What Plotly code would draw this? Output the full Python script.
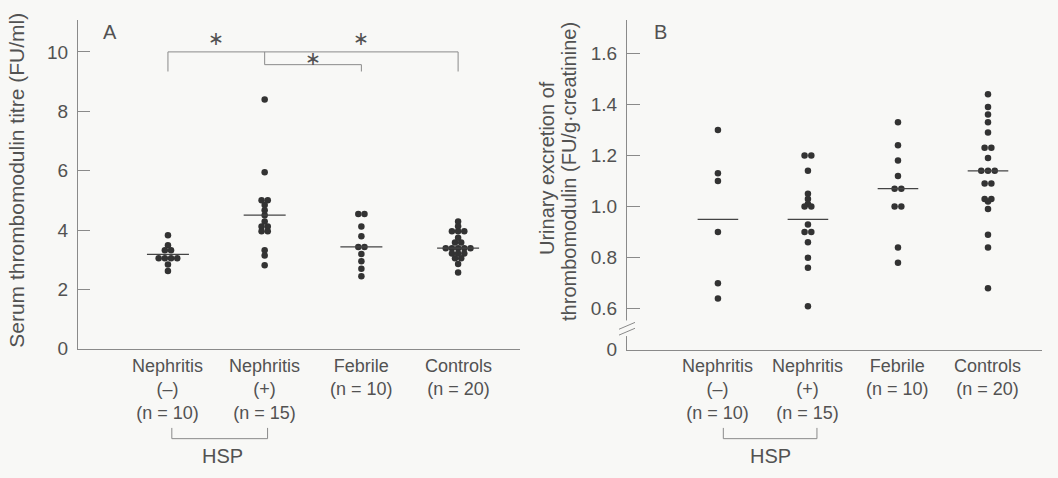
import plotly.graph_objects as go

# ---------------- data ----------------
cat_labels = ["Nephritis<br>(–)<br>(n = 10)", "Nephritis<br>(+)<br>(n = 15)",
              "Febrile<br>(n = 10)", "Controls<br>(n = 20)"]

serum_neph_neg = [3.82, 3.49, 3.32, 3.32, 3.05, 3.05, 3.05, 3.05, 2.84, 2.62]
serum_neph_pos = [8.40, 5.95, 5.00, 5.00, 4.84, 4.67, 4.50, 4.29, 4.12, 4.12,
                  3.96, 3.96, 3.32, 3.14, 2.81]
serum_febrile = [4.54, 4.54, 4.12, 3.79, 3.43, 3.43, 3.19, 2.95, 2.70, 2.44]
serum_controls = [4.29, 4.13, 3.96, 3.96, 3.96, 3.74, 3.58, 3.58, 3.39, 3.39,
                  3.39, 3.39, 3.39, 3.21, 3.21, 3.21, 3.05, 3.05, 2.86, 2.57]
serum_means = [3.18, 4.50, 3.43, 3.39]

urine_neph_neg = [1.30, 1.13, 1.10, 0.90, 0.70, 0.64]
urine_neph_pos = [1.20, 1.20, 1.14, 1.05, 1.03, 1.01, 1.00, 1.00, 0.93, 0.90,
                  0.90, 0.86, 0.80, 0.76, 0.61]
urine_febrile = [1.33, 1.24, 1.18, 1.12, 1.07, 1.07, 1.00, 1.00, 0.84, 0.78]
urine_controls = [1.44, 1.39, 1.36, 1.33, 1.29, 1.23, 1.23, 1.19, 1.14, 1.14,
                  1.14, 1.09, 1.09, 1.03, 1.03, 1.02, 0.99, 0.89, 0.84, 0.68]
urine_means = [0.95, 0.95, 1.07, 1.14]

serum_groups = [serum_neph_neg, serum_neph_pos, serum_febrile, serum_controls]
urine_groups = [urine_neph_neg, urine_neph_pos, urine_febrile, urine_controls]

# ---------------- styling ----------------
W, H = 1058, 478
BG = "#f8f8f6"
TXT = "#525252"
AX = "#8a8a8a"
DOT = "#333333"
FONT = "Liberation Sans"
FS = 19


def px_x(p):
    return p / W


def px_y(p):
    return 1 - p / H


def swarm(values, center, step):
    xs = []
    counts = {}
    for v in values:
        counts[v] = counts.get(v, 0) + 1
    seen = {}
    for v in values:
        n = counts[v]
        k = seen.get(v, 0)
        seen[v] = k + 1
        xs.append(center + (k - (n - 1) / 2) * step)
    return xs


fig = go.Figure()

for i, g in enumerate(serum_groups):
    fig.add_trace(go.Scatter(x=swarm(g, i + 1, 0.064), y=g, mode="markers",
                             marker=dict(size=6.5, color=DOT), xaxis="x", yaxis="y",
                             showlegend=False, hoverinfo="skip"))
fig.add_trace(go.Scatter(x=[1, 2, 3, 4], y=serum_means, mode="markers",
                         marker=dict(symbol="line-ew", size=30, line=dict(width=1.3, color="#444")),
                         xaxis="x", yaxis="y", showlegend=False, hoverinfo="skip"))

for i, g in enumerate(urine_groups):
    fig.add_trace(go.Scatter(x=swarm(g, i + 1, 0.075), y=g, mode="markers",
                             marker=dict(size=6.5, color=DOT), xaxis="x2", yaxis="y2",
                             showlegend=False, hoverinfo="skip"))
fig.add_trace(go.Scatter(x=[1, 2, 3, 4], y=urine_means, mode="markers",
                         marker=dict(symbol="line-ew", size=29, line=dict(width=1.3, color="#444")),
                         xaxis="x2", yaxis="y2", showlegend=False, hoverinfo="skip"))

axis_common = dict(showgrid=False, zeroline=False, showline=True, linecolor=AX, linewidth=1,
                   tickfont=dict(family=FONT, size=FS, color=TXT))

fig.update_layout(
    width=W, height=H,
    margin=dict(l=0, r=0, t=0, b=0),
    paper_bgcolor=BG, plot_bgcolor=BG,
    font=dict(family=FONT, size=FS, color=TXT),
    xaxis=dict(domain=[px_x(78), px_x(520)], range=[0.07, 4.64], anchor="y",
               showticklabels=False, ticks="", **axis_common),
    yaxis=dict(domain=[px_y(357), px_y(20)], range=[0, 11.09], anchor="x",
               tickvals=[0, 2, 4, 6, 8, 10], ticks="inside", ticklen=12, tickcolor=AX,
               ticklabelstandoff=5, **axis_common),
    xaxis2=dict(domain=[px_x(627), px_x(1042)], range=[-0.01, 4.6], anchor="y2",
                showticklabels=False, ticks="", **axis_common),
    yaxis2=dict(domain=[px_y(358), px_y(20)], range=[0.4394, 1.732], anchor="x2",
                tickvals=[0.4394, 0.6, 0.8, 1.0, 1.2, 1.4, 1.6],
                ticktext=["0", "0.6", "0.8", "1.0", "1.2", "1.4", "1.6"],
                ticks="inside", ticklen=13, tickcolor=AX, ticklabelstandoff=5, **axis_common),
)

ann = []
shapes = []

# category labels (multi-line, top anchored)
for xa in ("x", "x2"):
    for i, lab in enumerate(cat_labels):
        ann.append(dict(x=i + 1, xref=xa, y=px_y(363), yref="paper",
                        text=lab, showarrow=False, xanchor="center", align="center",
                        yanchor="top", borderpad=0, font=dict(size=18, color=TXT)))

# HSP brackets
for xa, x0, x1, xt in (("x", 1.04, 2.03, 1.56), ("x2", 1.06, 2.1, 1.58)):
    shapes.append(dict(type="path", xref=xa, yref="paper",
                       path=f"M {x0},{px_y(438)} L {x0},{px_y(449)} L {x1},{px_y(449)} L {x1},{px_y(438)}",
                       line=dict(color=AX, width=1)))
    ann.append(dict(x=xt, xref=xa, y=px_y(467), yref="paper", text="HSP", showarrow=False,
                    xanchor="center", yanchor="middle", font=dict(size=20, color=TXT)))

# significance brackets panel A
br = dict(type="line", xref="x", yref="y", line=dict(color=AX, width=1))
shapes += [
    dict(br, x0=1, x1=4, y0=10.0, y1=10.0),
    dict(br, x0=1, x1=1, y0=10.0, y1=9.34),
    dict(br, x0=4, x1=4, y0=10.0, y1=9.34),
    dict(br, x0=2, x1=2, y0=10.0, y1=9.57),
    dict(br, x0=2, x1=3, y0=9.57, y1=9.57),
    dict(br, x0=3, x1=3, y0=9.57, y1=9.34),
]
for sx, sy in ((1.5, 10.45), (3.0, 10.45), (2.5, 9.78)):
    ann.append(dict(x=sx, xref="x", y=sy, yref="y", text="∗", showarrow=False,
                    xanchor="center", yanchor="middle", font=dict(size=19, color=TXT)))

# axis break on panel B
shapes.append(dict(type="rect", xref="paper", yref="paper",
                   x0=px_x(624), x1=px_x(630), y0=px_y(344), y1=px_y(328),
                   fillcolor=BG, line=dict(width=0), layer="above"))
shapes.append(dict(type="line", xref="paper", yref="paper", x0=px_x(619), y0=px_y(337),
                   x1=px_x(635), y1=px_y(330), line=dict(color=AX, width=1)))
shapes.append(dict(type="line", xref="paper", yref="paper", x0=px_x(619), y0=px_y(343),
                   x1=px_x(635), y1=px_y(336), line=dict(color=AX, width=1)))

# panel letters
ann.append(dict(x=px_x(110), y=px_y(33), xref="paper", yref="paper", text="A", showarrow=False,
                xanchor="center", yanchor="middle", font=dict(size=20, color=TXT)))
ann.append(dict(x=px_x(660), y=px_y(33), xref="paper", yref="paper", text="B", showarrow=False,
                xanchor="center", yanchor="middle", font=dict(size=20, color=TXT)))

# y axis titles
ann.append(dict(x=px_x(17), y=px_y(185), xref="paper", yref="paper",
                text="Serum thrombomodulin titre (FU/ml)", textangle=-90, showarrow=False,
                xanchor="center", yanchor="middle", font=dict(size=21, color=TXT)))
ann.append(dict(x=px_x(547), y=px_y(172), xref="paper", yref="paper",
                text="Urinary excretion of", textangle=-90, showarrow=False,
                xanchor="center", yanchor="middle", font=dict(size=20, color=TXT)))
ann.append(dict(x=px_x(569), y=px_y(176), xref="paper", yref="paper",
                text="thrombomodulin (FU/g·creatinine)", textangle=-90, showarrow=False,
                xanchor="center", yanchor="middle", font=dict(size=20, color=TXT)))

fig.update_layout(annotations=ann, shapes=shapes)
fig.write_html("out.html", config={"displayModeBar": False, "staticPlot": True},
               post_script="document.body.style.margin='0';document.body.style.background='%s';" % BG)
